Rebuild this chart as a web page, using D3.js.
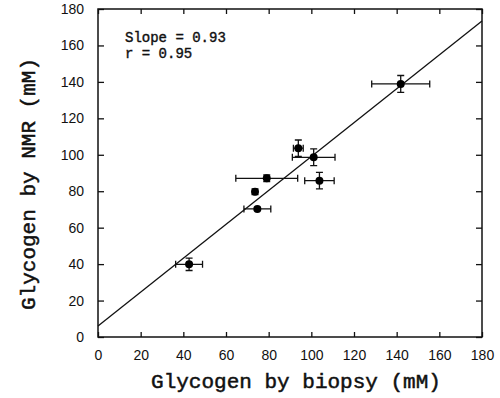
<!DOCTYPE html>
<html>
<head>
<meta charset="utf-8">
<script src="https://cdn.jsdelivr.net/npm/d3@7"></script>
<style>
  body { margin: 0; background: #fff; }
  .tick text { font-family: "Liberation Sans", Arial, sans-serif; font-size: 14px; fill: #111; }
  .title { font-family: "Liberation Mono", "Courier New", monospace; font-size: 21px; fill: #111; stroke: #111; stroke-width: 0.5; }
  .note { font-family: "Liberation Mono", "Courier New", monospace; font-size: 14px; fill: #111; stroke: #111; stroke-width: 0.4; }
</style>
</head>
<body>
<div id="chart"></div>
<script>
// biopsy (x) vs NMR (y) glycogen, mM, with error bars
const biopsy    = [42.7, 74.7, 73.6, 79.1, 93.9, 101.1, 103.8, 141.9];
const biopsyErr = [6.3, 6.3, 0, 14.5, 2.3, 10, 6.9, 13.6];
const nmr       = [39.9, 70.3, 79.7, 87.1, 103.6, 98.6, 85.8, 138.9];
const nmrErr    = [3.4, 0.8, 1.6, 1.8, 4.5, 4.6, 4.5, 4.6];
const fitLine   = [{x: 0, y: 6}, {x: 180, y: 173.4}];
const tickValues = [0, 20, 40, 60, 80, 100, 120, 140, 160, 180];
const notes = ["Slope = 0.93", "r = 0.95"];

const data = biopsy.map((d, i) => ({x: d, xe: biopsyErr[i], y: nmr[i], ye: nmrErr[i]}));

const svg = d3.select("#chart")
    .append("svg")
    .attr("width", 500)
    .attr("height", 398);
const margin = {top: 9, right: 18, bottom: 61, left: 98};
const width = 500 - margin.left - margin.right;
const height = 398 - margin.top - margin.bottom;
const chart = svg.append("g").attr("transform", `translate(${margin.left},${margin.top})`);

const xScale = d3.scaleLinear().domain([0, 180]).range([0, width]);
const yScale = d3.scaleLinear().domain([0, 180]).range([height, 0]);

// axes with inward ticks on all four sides
chart.append("g")
    .attr("transform", `translate(0,${height})`)
    .call(d3.axisBottom(xScale).tickValues(tickValues).tickSizeInner(-5).tickSizeOuter(0).tickPadding(13));
chart.append("g")
    .call(d3.axisLeft(yScale).tickValues(tickValues).tickSizeInner(-6).tickSizeOuter(0).tickPadding(14));
chart.append("g")
    .call(d3.axisTop(xScale).tickValues(tickValues).tickSizeInner(-5).tickSizeOuter(0).tickFormat(""));
chart.append("g")
    .attr("transform", `translate(${width},0)`)
    .call(d3.axisRight(yScale).tickValues(tickValues).tickSizeInner(-6).tickSizeOuter(0).tickFormat(""));
chart.selectAll(".domain").remove();
chart.selectAll(".tick line").attr("stroke", "#111").attr("stroke-width", 1.3);

chart.append("rect")
    .attr("width", width)
    .attr("height", height)
    .attr("fill", "none")
    .attr("stroke", "#111")
    .attr("stroke-width", 1.5);

// regression line
chart.append("path")
    .datum(fitLine)
    .attr("fill", "none")
    .attr("stroke", "#111")
    .attr("stroke-width", 1.3)
    .attr("d", d3.line().x(d => xScale(d.x)).y(d => yScale(d.y)));

// error bars
const cap = 3.5;
const bars = chart.append("g").attr("stroke", "#111").attr("stroke-width", 1.3);
data.filter(d => d.xe > 0).forEach(d => {
    const x0 = xScale(d.x - d.xe), x1 = xScale(d.x + d.xe), y = yScale(d.y);
    bars.append("path").attr("d", `M${x0},${y}H${x1}M${x0},${y - cap}V${y + cap}M${x1},${y - cap}V${y + cap}`);
});
data.filter(d => d.ye > 0).forEach(d => {
    const y0 = yScale(d.y - d.ye), y1 = yScale(d.y + d.ye), x = xScale(d.x);
    bars.append("path").attr("d", `M${x},${y0}V${y1}M${x - cap},${y0}H${x + cap}M${x - cap},${y1}H${x + cap}`);
});

chart.selectAll("circle")
    .data(data)
    .enter()
    .append("circle")
    .attr("cx", d => xScale(d.x))
    .attr("cy", d => yScale(d.y))
    .attr("r", 4)
    .attr("fill", "#000");

// annotation
chart.selectAll(".note")
    .data(notes)
    .enter()
    .append("text")
    .attr("class", "note")
    .attr("x", 27)
    .attr("y", (d, i) => 33 + i * 16)
    .text(d => d);

// axis titles
svg.append("text")
    .attr("class", "title")
    .attr("x", 296)
    .attr("y", 388)
    .attr("text-anchor", "middle")
    .text("Glycogen by biopsy (mM)");
svg.append("text")
    .attr("class", "title")
    .attr("transform", "translate(35,184) rotate(-90)")
    .attr("text-anchor", "middle")
    .text("Glycogen by NMR (mM)");
</script>
</body>
</html>
